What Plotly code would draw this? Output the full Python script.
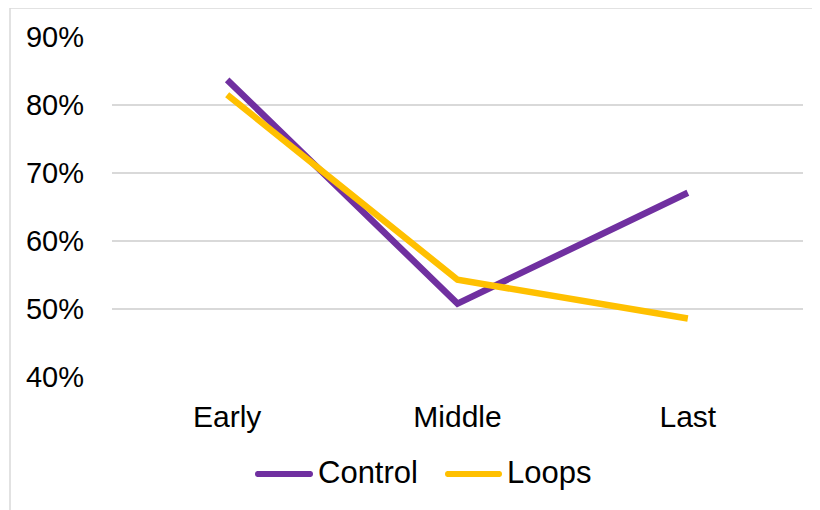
import plotly.graph_objects as go

categories = ["Early", "Middle", "Last"]
control = [0.837, 0.508, 0.671]
loops = [0.815, 0.543, 0.486]
y_ticks = [0.4, 0.5, 0.6, 0.7, 0.8, 0.9]
y_tick_labels = ["40%", "50%", "60%", "70%", "80%", "90%"]
series_names = ["Control", "Loops"]
series_colors = ["#7030A0", "#FFC000"]

# page has an 8px body margin; screen coordinates are shifted by it
OFF = 8
W, H = 820, 510
PX0, PX1, PY0, PY1 = 112, 803, 37, 377  # plot area in screen px
L, R, T, B = PX0 - OFF, W - (PX1 - OFF), PY0 - OFF, H - (PY1 - OFF)
pw, ph = PX1 - PX0, PY1 - PY0


def px(sx):
    return (sx - PX0) / pw


def py(sy):
    return (PY1 - sy) / ph


fig = go.Figure()
for name, vals, col in zip(series_names, [control, loops], series_colors):
    fig.add_trace(go.Scatter(x=categories, y=vals, name=name, mode="lines",
                             line=dict(color=col, width=6.5), showlegend=False))

font = dict(family="Liberation Sans, Arial, sans-serif", size=30, color="#000000")
yfont = dict(family="Liberation Sans, Arial, sans-serif", size=29, color="#000000")
lfont = dict(family="Liberation Sans, Arial, sans-serif", size=31, color="#000000")

fig.update_layout(
    width=W, height=H,
    margin=dict(l=L, r=R, t=T, b=B),
    paper_bgcolor="white", plot_bgcolor="white",
    font=font,
    showlegend=False,
    xaxis=dict(type="category", range=[-0.5, 2.5], showgrid=False, showline=False,
               ticks="", tickfont=font, zeroline=False, ticklabelstandoff=19),
    yaxis=dict(range=[0.4, 0.9], tickvals=y_ticks, ticktext=y_tick_labels,
               showgrid=True, gridcolor="#D9D9D9", gridwidth=1.5, zeroline=False,
               showline=False, ticks="", tickfont=yfont, ticklabelstandoff=27),
)

# legend (drawn manually to match the long line keys)
legend_sym_x = [(255, 313), (445, 502)]
legend_y = 473
for (x0, x1), name, col in zip(legend_sym_x, series_names, series_colors):
    fig.add_shape(type="line", xref="paper", yref="paper",
                  x0=px(x0 + 2), x1=px(x1 - 2), y0=py(legend_y + 1), y1=py(legend_y + 1),
                  line=dict(color=col, width=6))
    for cx in (x0 + 3, x1 - 3):
        fig.add_shape(type="circle", xref="paper", yref="paper",
                      x0=px(cx - 3), x1=px(cx + 3), y0=py(legend_y + 4), y1=py(legend_y - 2),
                      fillcolor=col, line=dict(width=0))
    fig.add_annotation(text=name, xref="paper", yref="paper", x=px(x1 + 3), y=py(legend_y),
                       xanchor="left", yanchor="middle", showarrow=False, font=lfont)

# outer chart border (light grey)
bx0 = px(10)
by1 = py(8)
fig.add_shape(type="line", xref="paper", yref="paper", x0=bx0, x1=bx0, y0=-1, y1=by1,
              line=dict(color="#D9D9D9", width=1.5))
fig.add_shape(type="line", xref="paper", yref="paper", x0=bx0, x1=2, y0=by1, y1=by1,
              line=dict(color="#D9D9D9", width=1.5))

fig.write_html("out.html")
